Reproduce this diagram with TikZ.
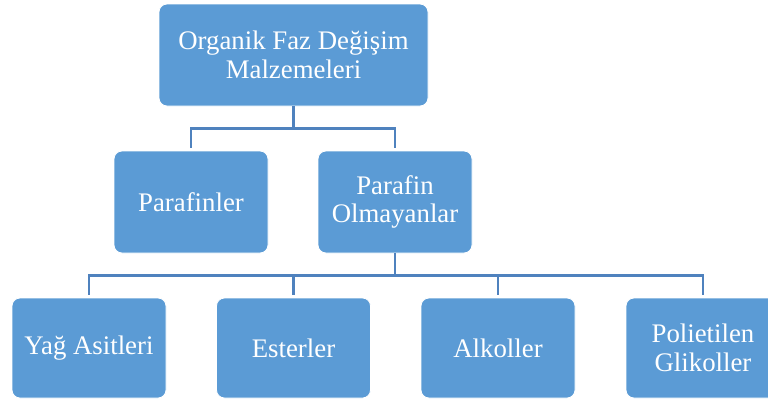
\documentclass[tikz,border=0pt]{standalone}
\usepackage{fontspec}
\setmainfont{Liberation Serif}
\definecolor{boxblue}{HTML}{5B9BD5}
\definecolor{lineblue}{HTML}{4F82BE}
\begin{document}
\begin{tikzpicture}[x=1pt,y=-1pt,
  box/.style={draw=white, line width=0.8pt, fill=boxblue, rounded corners=8pt,
    minimum width=154pt, minimum height=102pt, text=white,
    font=\fontsize{26.8}{28.5}\selectfont, align=center, inner sep=0pt},
  conn/.style={draw=lineblue, line width=2.8pt}]
\useasboundingbox (0,0) rectangle (768,400);
\clip (0,0) rectangle (768,400);
\node[box, minimum width=269pt] (top) at (293.5,55) {Organik Faz Değişim\\Malzemeleri};
\node[box] (p1) at (191,202) {Parafinler};
\node[box] (p2) at (395,202) {Parafin\\Olmayanlar};
\node[box, minimum height=100pt] (b1) at (89,348) {Yağ Asitleri};
\node[box, minimum height=100pt] (b2) at (293.5,348) {Esterler};
\node[box, minimum height=100pt] (b3) at (498,348) {Alkoller};
\node[box, minimum height=100pt] (b4) at (703,348) {Polietilen\\Glikoller};
\draw[conn] (top.south) -- ++(0,22) coordinate (j1);
\draw[conn, shorten >=3pt] (j1) -| (p1.north);
\draw[conn, shorten >=3pt] (j1) -| (p2.north);
\draw[conn] (p2.south) -- ++(0,22) coordinate (j2);
\draw[conn, shorten >=3pt] (j2) -| (b1.north);
\draw[conn, shorten >=3pt] (j2) -| (b2.north);
\draw[conn, shorten >=3pt] (j2) -| (b3.north);
\draw[conn, shorten >=3pt] (j2) -| (b4.north);
\end{tikzpicture}
\end{document}
